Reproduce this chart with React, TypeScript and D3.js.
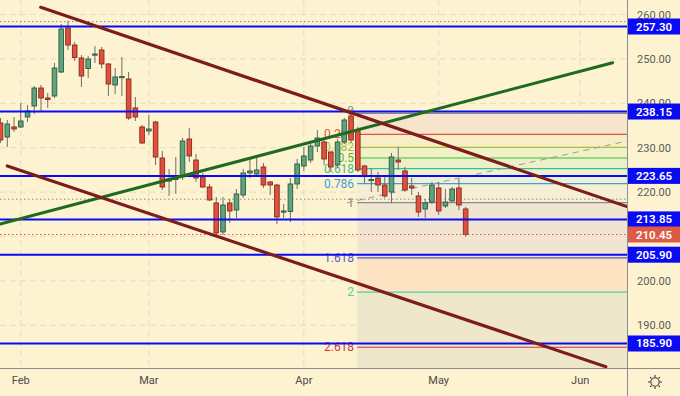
import React from "react";
import * as d3 from "d3";

// ---- data ----
const opens = [235.57,232.41,234.67,234.67,236.92,239.40,243.45,241.20,241.65,247.05,256.96,253.13,250.21,247.84,250.88,252.01,248.86,244.13,245.82,245.48,238.95,234.67,233.77,235.79,227.68,222.50,222.84,223.41,231.96,227.23,223.41,221.15,217.55,211.02,217.55,215.97,219.35,224.31,224.08,225.66,222.28,221.60,215.52,215.63,221.83,225.88,227.23,230.39,231.29,229.03,226.11,231.29,237.14,233.77,225.88,222.62,223.18,221.60,220.03,227.23,224.76,221.38,219.13,216.20,217.77,220.93,216.87,218.00,220.93,216.20];
const highs = [236.69,236.24,236.92,240.07,239.62,243.90,244.13,242.32,249.08,257.86,258.54,253.81,250.88,250.66,252.91,252.68,249.08,247.95,250.43,247.05,241.42,235.12,237.37,236.02,229.26,225.21,227.91,232.19,234.44,228.59,224.31,221.83,218.90,218.90,218.45,220.70,225.21,227.46,227.68,226.56,222.50,221.83,217.32,223.18,227.46,230.16,231.29,233.99,232.41,229.26,231.96,236.69,238.72,234.67,226.11,225.43,224.53,223.41,228.81,230.16,225.66,223.18,220.03,218.45,222.28,222.28,220.70,221.15,222.95,216.65];
const lows = [231.06,230.16,233.54,234.44,235.79,237.59,238.05,238.95,241.20,246.83,252.01,249.53,243.68,245.70,249.08,247.84,241.65,242.10,241.65,236.24,236.02,230.84,232.86,226.11,220.48,219.13,219.58,222.73,226.78,222.28,220.93,218.00,210.34,210.34,213.05,214.17,218.68,223.18,223.41,220.93,219.35,212.82,214.17,213.27,220.70,224.76,226.56,229.03,226.11,224.53,225.43,230.84,231.06,224.53,222.05,220.03,220.03,218.68,217.55,224.98,220.03,219.35,214.40,214.17,217.32,214.85,216.42,217.77,215.97,209.89];
const closes = [231.74,235.34,234.22,236.02,238.27,243.45,241.20,240.86,247.95,256.74,253.13,250.32,246.15,249.98,251.11,248.86,244.35,245.93,246.04,236.69,236.92,231.06,234.22,227.91,221.15,222.95,223.18,231.51,228.14,223.18,221.15,218.23,210.79,217.10,215.75,219.58,224.31,224.76,224.98,221.60,221.60,214.40,215.75,221.83,226.33,228.14,230.39,232.19,227.46,225.66,231.29,236.24,231.74,224.98,223.63,222.84,221.60,219.13,227.91,226.78,220.48,220.93,215.52,217.55,221.60,215.75,217.77,220.70,217.10,210.45];

const monthLabels = ["Feb", "Mar", "Apr", "May", "Jun"];
const monthBars = [3, 22, 45, 65, 86];
const priceTicks = [190, 200, 210, 220, 230, 240, 250, 260];
const blueLevels = [257.3, 238.15, 223.65, 213.85, 205.9, 185.9];
const lastPrice = 210.45;
const dottedLevels = [258.4, 218.4];

const fibRatios = [0, 0.236, 0.382, 0.5, 0.618, 0.786, 1, 1.618, 2, 2.618, 3.618];
const fibLabels = ["0", "0.236", "0.382", "0.5", "0.618", "0.786", "1", "1.618", "2", "2.618", "3.618"];
const fibPrice0 = 237.75;
const fibPrice1 = 217.62;
const fibStartBar = 52.9;

const greenTrend = [[-0.08, 212.82], [90.82, 249.15]];
const maroonUpper = [[5.96, 261.63], [92.94, 216.74]];
const maroonLower = [[1.0, 225.88], [89.8, 180.68]];
const dashedTrend = [[51.4, 217.6], [92.94, 231.5]];

// ---- styles ----
const W = 680, H = 396;
const PW = 627, PH = 368;
const BG = "#fdf3d0";
const fibLineColors = ["#8a8a8a", "#d9574a", "#9fc33a", "#35c135", "#3bbf8a", "#3e9fdc", "#8a8a8a", "#5a5ad0", "#4fd0a0", "#c83a3a", "#9c27b0"];
const fibZoneColors = ["#f7e5cb", "#f7eec8", "#f1f0c6", "#ecf0c8", "#eef0d2", "#f6efd6", "#f1e5d1", "#fde3c2", "#efe7cb", "#efe7cb"];
const FONT = "Roboto, 'Liberation Sans', sans-serif";

export default function App() {
  const x = d3.scaleLinear().domain([-0.083, 92.94]).range([0, PW]);
  const y = d3.scaleLinear().domain([180.38, 263.27]).range([PH, 0]);
  const bodyW = 4.6;
  const fibX = x(fibStartBar);
  const fibVal = (r: number) => fibPrice0 + (fibPrice1 - fibPrice0) * r;
  const line = d3.line<number[]>().x((d) => x(d[0])).y((d) => y(d[1]));

  return (
    <svg width={W} height={H} style={{ position: "absolute", left: 0, top: 0, background: BG }}>
      <defs>
        <clipPath id="plot">
          <rect x={0} y={0} width={PW} height={PH} />
        </clipPath>
      </defs>
      <rect x={0} y={0} width={W} height={H} fill={BG} />
      <g clipPath="url(#plot)">
        {/* grid */}
        {priceTicks.map((t) => (
          <line key={"gh" + t} x1={0} x2={PW} y1={y(t)} y2={y(t)} stroke="#e3dcc6" strokeDasharray="6,4" />
        ))}
        {monthBars.map((b) => (
          <line key={"gv" + b} x1={x(b)} x2={x(b)} y1={0} y2={PH} stroke="#e3dcc6" strokeDasharray="6,4" />
        ))}
        {/* fib zones */}
        {fibRatios.slice(0, -1).map((r, i) => {
          const y1 = y(fibVal(r));
          const y2 = Math.min(PH, y(fibVal(fibRatios[i + 1])));
          return <rect key={"fz" + i} x={fibX} y={y1} width={PW - fibX} height={y2 - y1} fill={fibZoneColors[i]} />;
        })}
        {fibRatios.map((r, i) =>
          y(fibVal(r)) < PH ? (
            <line key={"fl" + i} x1={fibX} x2={PW} y1={y(fibVal(r))} y2={y(fibVal(r))} stroke={fibLineColors[i]} strokeWidth={1.2} />
          ) : null
        )}
        {fibRatios.map((r, i) =>
          y(fibVal(r)) < PH ? (
            <text key={"ft" + i} x={fibX - 3} y={y(fibVal(r)) + (i === 0 ? 1.5 : 4)} textAnchor="end" fontSize={12} fontFamily={FONT} fill={fibLineColors[i]}>
              {fibLabels[i]}
            </text>
          ) : null
        )}
        <path d={line(dashedTrend as any) || ""} stroke="#9a9a9a" strokeWidth={1} strokeDasharray="6,5" fill="none" />
        {/* dotted levels */}
        {dottedLevels.map((v) => (
          <line key={"dl" + v} x1={0} x2={PW} y1={y(v)} y2={y(v)} stroke="#8a8a8a" strokeDasharray="1.5,2.5" />
        ))}
        {/* candles */}
        {opens.map((o, i) => {
          const c = closes[i];
          const up = c >= o;
          const cx = x(i);
          const top = y(Math.max(o, c));
          const bot = y(Math.min(o, c));
          return (
            <g key={"c" + i}>
              <line x1={cx} x2={cx} y1={y(highs[i])} y2={y(lows[i])} stroke="#6e6e6e" strokeWidth={1} />
              <rect x={cx - bodyW / 2} y={top} width={bodyW} height={Math.max(1.2, bot - top)} fill={up ? "#5fa27f" : "#e0503c"} stroke={up ? "#2c5a3d" : "#86281c"} strokeWidth={0.9} />
            </g>
          );
        })}
        {/* current price */}
        <line x1={0} x2={PW} y1={y(lastPrice)} y2={y(lastPrice)} stroke="#e0533f" strokeDasharray="1.5,2.5" />
        {/* blue levels */}
        {blueLevels.map((v) => (
          <line key={"bl" + v} x1={0} x2={PW} y1={y(v)} y2={y(v)} stroke="#0a0af5" strokeWidth={2} />
        ))}
        {/* trend lines */}
        <path d={line(greenTrend as any) || ""} stroke="#1f6a1f" strokeWidth={3} fill="none" strokeLinecap="round" />
        <path d={line(maroonUpper as any) || ""} stroke="#7e1c1c" strokeWidth={3.2} fill="none" strokeLinecap="round" />
        <path d={line(maroonLower as any) || ""} stroke="#7e1c1c" strokeWidth={3.2} fill="none" strokeLinecap="round" />
      </g>
      {/* axes */}
      <line x1={PW + 0.5} x2={PW + 0.5} y1={0} y2={H} stroke="#8e8e8e" />
      <line x1={0} x2={W} y1={PH + 0.5} y2={PH + 0.5} stroke="#8e8e8e" />
      {priceTicks.map((t) => (
        <text key={"pt" + t} x={654} y={y(t) + 4} textAnchor="middle" fontSize={11} fontFamily={FONT} fill="#5a5a5a">
          {t.toFixed(2)}
        </text>
      ))}
      {monthLabels.map((m, i) => (
        <text key={"ml" + m} x={x(monthBars[i])} y={384} textAnchor="middle" fontSize={11} fontFamily={FONT} fill="#4a4a4a">
          {m}
        </text>
      ))}
      {blueLevels.map((v) => (
        <g key={"lab" + v}>
          <rect x={PW + 1} y={y(v) - 8} width={W - PW - 1} height={16} fill="#0a0af5" />
          <text x={654} y={y(v) + 4} textAnchor="middle" fontSize={11.5} fontWeight={600} fontFamily={FONT} fill="#ffffff">
            {v.toFixed(2)}
          </text>
        </g>
      ))}
      <rect x={PW + 1} y={y(lastPrice) - 8} width={W - PW - 1} height={16} fill="#dd5a45" />
      <text x={654} y={y(lastPrice) + 4} textAnchor="middle" fontSize={11.5} fontWeight={600} fontFamily={FONT} fill="#ffffff">
        {lastPrice.toFixed(2)}
      </text>
      {/* settings icon */}
      <g transform="translate(655,382)" stroke="#333" fill="none" strokeWidth={1.1}>
        <circle r={4.2} />
        {d3.range(8).map((k) => {
          const a = (k * Math.PI) / 4;
          return <line key={"ray" + k} x1={Math.cos(a) * 5} y1={Math.sin(a) * 5} x2={Math.cos(a) * 7} y2={Math.sin(a) * 7} />;
        })}
      </g>
    </svg>
  );
}
